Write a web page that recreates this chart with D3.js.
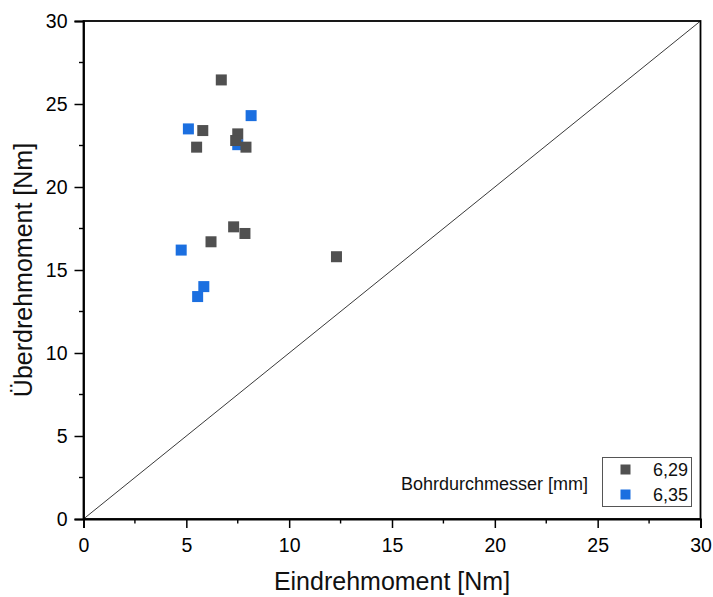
<!DOCTYPE html>
<html>
<head>
<meta charset="utf-8">
<script src="https://cdn.jsdelivr.net/npm/d3@7"></script>
<style>
  html, body { margin: 0; padding: 0; background: #fff; }
  svg { display: block; font-family: "Liberation Sans", Arial, sans-serif; }
</style>
</head>
<body>
<svg id="chart" width="713" height="597"></svg>
<script>
const xTicks = [0, 5, 10, 15, 20, 25, 30];
const yTicks = [0, 5, 10, 15, 20, 25, 30];
const seriesNames = ["6,29", "6,35"];
const seriesColors = ["#505050", "#1b6fe0"];
const gray_x = [6.7, 5.8, 5.5, 7.5, 7.4, 7.9, 7.3, 7.85, 6.2, 12.3];
const gray_y = [26.45, 23.4, 22.4, 23.2, 22.8, 22.4, 17.6, 17.2, 16.7, 15.8];
const blue_x = [5.1, 8.15, 7.5, 4.75, 5.85, 5.55];
const blue_y = [23.5, 24.3, 22.55, 16.2, 14.0, 13.4];
const diagonal = [[0, 0], [30, 30]];

(function () {
const svg = d3.select("#chart");
const mL = 83.5, mR = 700.5, mT = 21, mB = 519;
const x = d3.scaleLinear().domain([0, 30]).range([mL, mR]);
const y = d3.scaleLinear().domain([0, 30]).range([mB, mT]);
const FONT = "'Liberation Sans', Arial, sans-serif";

// diagonal
svg.append("line")
  .attr("x1", x(diagonal[0][0])).attr("y1", y(diagonal[0][1]))
  .attr("x2", x(diagonal[1][0])).attr("y2", y(diagonal[1][1]))
  .attr("stroke", "#222").attr("stroke-width", 0.9);

// frame
svg.append("rect").attr("x", mL).attr("y", mT)
  .attr("width", mR - mL).attr("height", mB - mT)
  .attr("fill", "none").attr("stroke", "#000").attr("stroke-width", 1.8);

// axes
const minor = d3.range(2.5, 30, 5);
const xAxis = svg.append("g").attr("transform", `translate(0,${mB})`)
  .call(d3.axisBottom(x).tickValues(xTicks).tickSize(9).tickPadding(10).tickFormat(d3.format("d")));
const yAxis = svg.append("g").attr("transform", `translate(${mL},0)`)
  .call(d3.axisLeft(y).tickValues(yTicks).tickSize(9).tickPadding(7).tickFormat(d3.format("d")));
[xAxis, yAxis].forEach(g => {
  g.select(".domain").attr("stroke-width", 1.8);
  g.selectAll(".tick line").attr("stroke-width", 1.5);
  g.selectAll(".tick text").attr("font-size", 19.5).attr("fill", "#000")
    .attr("font-family", FONT);
});
svg.append("g").selectAll("line").data(minor).join("line")
  .attr("x1", d => x(d)).attr("x2", d => x(d))
  .attr("y1", mB).attr("y2", mB + 4.5).attr("stroke", "#000").attr("stroke-width", 1.4);
svg.append("g").selectAll("line").data(minor).join("line")
  .attr("y1", d => y(d)).attr("y2", d => y(d))
  .attr("x1", mL).attr("x2", mL - 4.5).attr("stroke", "#000").attr("stroke-width", 1.4);

// axis titles
svg.append("text").attr("x", 392).attr("y", 590)
  .attr("text-anchor", "middle").attr("font-size", 25).attr("fill", "#111")
  .text("Eindrehmoment [Nm]");
svg.append("text").attr("transform", `translate(32,${(mT + mB) / 2}) rotate(-90)`)
  .attr("text-anchor", "middle").attr("font-size", 25).attr("fill", "#111")
  .text("Überdrehmoment [Nm]");

// points
const ms = 11;
const blue = d3.zip(blue_x, blue_y);
const gray = d3.zip(gray_x, gray_y);
svg.append("g").selectAll("rect").data(blue).join("rect")
  .attr("x", d => x(d[0]) - ms / 2).attr("y", d => y(d[1]) - ms / 2)
  .attr("width", ms).attr("height", ms).attr("fill", seriesColors[1]);
svg.append("g").selectAll("rect").data(gray).join("rect")
  .attr("x", d => x(d[0]) - ms / 2).attr("y", d => y(d[1]) - ms / 2)
  .attr("width", ms).attr("height", ms).attr("fill", seriesColors[0]);

// legend
svg.append("text").attr("x", 588).attr("y", 490).attr("text-anchor", "end")
  .attr("font-size", 18).attr("fill", "#111").text("Bohrdurchmesser [mm]");
svg.append("rect").attr("x", 602.5).attr("y", 457.5).attr("width", 89).attr("height", 49)
  .attr("fill", "#fff").attr("stroke", "#555").attr("stroke-width", 1);
seriesNames.forEach((n, i) => {
  const cy = 469.5 + i * 25;
  svg.append("rect").attr("x", 620.5).attr("y", cy - 5).attr("width", 10).attr("height", 10)
    .attr("fill", seriesColors[i]);
  svg.append("text").attr("x", 688).attr("y", cy + 6.5).attr("text-anchor", "end")
    .attr("font-size", 18).attr("fill", "#111").text(n);
});
})();
</script>
</body>
</html>
